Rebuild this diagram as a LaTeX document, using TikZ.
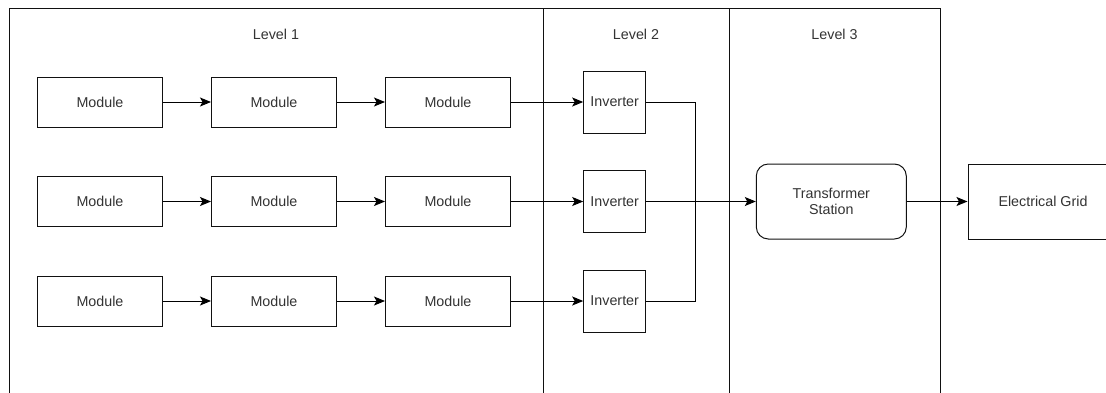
\documentclass[tikz,border=0pt]{standalone}
\usepackage{fontspec}
\setmainfont{Liberation Sans}
\usetikzlibrary{arrows.meta,positioning}
\definecolor{txt}{HTML}{333333}
\definecolor{ln}{HTML}{111111}
\tikzset{
  box/.style={draw=ln,line width=1pt,fill=white,text=txt,font=\fontsize{14.3}{16}\selectfont,inner sep=0pt,align=center},
  modbox/.style={box,minimum width=125pt,minimum height=50pt},
  invbox/.style={box,minimum width=62pt,minimum height=62pt},
  bigbox/.style={box,minimum width=150pt,minimum height=75pt},
  lvl/.style={draw=ln,line width=1pt},
  lvltext/.style={text=txt,font=\fontsize{14.3}{16}\selectfont,inner sep=0pt},
  conn/.style={draw=black,line width=1pt},
  arr/.style={conn,-{Stealth[length=11pt,width=9pt,inset=2.5pt]}}
}
\begin{document}
\begin{tikzpicture}[x=1pt,y=-1pt]
\useasboundingbox (0,0) rectangle (1106,392);
\clip (0,0) rectangle (1106,392);
% level regions
\draw[lvl] (9.5,400) -- (9.5,8.5) -- (940.5,8.5) -- (940.5,400);
\draw[lvl] (543.5,8.5) -- (543.5,400);
\draw[lvl] (729.5,8.5) -- (729.5,400);
\node[lvltext] (l1) at (276,34) {Level 1};
\node[lvltext] (l2) at (636,34) {Level 2};
\node[lvltext] (l3) at (834.5,34) {Level 3};
% modules
\foreach \r/\y in {1/102,2/201.5,3/301}{
  \node[modbox] (m\r1) at (100,\y) {Module};
  \node[modbox] (m\r2) at (274,\y) {Module};
  \node[modbox] (m\r3) at (448,\y) {Module};
  \node[invbox] (i\r) at (614.7,\y) {Inverter};
}
\node[bigbox,rounded corners=12pt] (t) at (831.3,201.5) {Transformer\\Station};
\node[bigbox] (g) at (1043,201.5) {Electrical Grid};
\coordinate (j) at (695.5,201.5);
% connectors
\foreach \r in {1,2,3}{
  \draw[arr] (m\r1) -- (m\r2);
  \draw[arr] (m\r2) -- (m\r3);
  \draw[arr] (m\r3) -- (i\r);
}
\draw[conn] (i1.east) -| (j);
\draw[conn] (i3.east) -| (j);
\draw[arr] (i2) -- (t);
\draw[arr] (t) -- (g);
\end{tikzpicture}
\end{document}
